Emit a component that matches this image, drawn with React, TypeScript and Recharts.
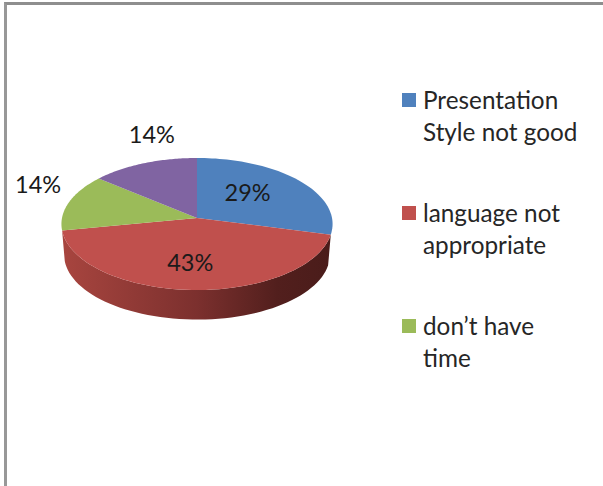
import { Legend, Pie, PieChart } from "recharts";

const categories = ["Presentation\nStyle not good", "language not\nappropriate", "don\u2019t have\ntime", ""];
const shares = [29, 43, 14, 14];
const sliceColors = ["#4f81bd", "#c0504d", "#9bbb59", "#8064a2"];
// label anchor shift from the rim, per slice; the last two sit outside the pie
const labelShift = [[0.6, 0], [0.6, 0], [1, 1], [1, 1]];
const labelNudge = [[-10, -3], [-4, 1], [-31, -18], [8, -29]];

const data = categories.map((name, i) => ({ name, value: shares[i], fill: sliceColors[i] }));

const FONT = "Lato, sans-serif";
const TILT = 0.485; // ry / rx of the disc
const PERSPECTIVE = 0.0909;
const DEPTH = 31;

// disc angle (clockwise from 12 o'clock) to screen, with the slight perspective of the 3D pie
function project(cx: number, cy: number, r: number, theta: number, f = 1) {
  const s = Math.sin((theta * Math.PI) / 180);
  const c = Math.cos((theta * Math.PI) / 180);
  const d = 1 + PERSPECTIVE * c;
  return { x: cx + (r * f * s) / d, y: cy - (r * TILT * f * c) / d };
}

function arcPoints(cx: number, cy: number, r: number, from: number, to: number) {
  const pts = [];
  for (let i = 0; i <= 60; i++) {
    const p = project(cx, cy, r, from + ((to - from) * i) / 60);
    pts.push(`${p.x.toFixed(2)} ${p.y.toFixed(2)}`);
  }
  return pts;
}

function TopFace(props: any) {
  const { cx, cy, outerRadius, startAngle, endAngle, fill } = props;
  const pts = arcPoints(cx, cy, outerRadius, 90 - startAngle, 90 - endAngle);
  return <path d={`M${cx} ${cy} L${pts.join(" L")} Z`} fill={fill} />;
}

function SideWall(props: any) {
  const { cx, cy, outerRadius, startAngle, endAngle } = props;
  const from = 90 - startAngle;
  const to = 90 - endAngle;
  // only the slice facing the viewer shows its side
  if (from > 180 || to < 180) return null;
  const top = arcPoints(cx, cy, outerRadius, from, to);
  const bottom = arcPoints(cx, cy + DEPTH, outerRadius * 0.98, to, from);
  return <path d={`M${top.join(" L")} L${bottom.join(" L")} Z`} fill="url(#wallShade)" />;
}

function renderLabel(props: any) {
  const { cx, cy, outerRadius, midAngle, index, value } = props;
  const p = project(cx, cy, outerRadius, 90 - midAngle, labelShift[index][0]);
  return (
    <text
      x={p.x + labelNudge[index][0]}
      y={p.y + labelNudge[index][1]}
      textAnchor="middle"
      dominantBaseline="central"
      fontFamily={FONT}
      fontSize={23.5}
      fill="#1a1a1a"
    >
      {value}%
    </text>
  );
}

function PieLegend({ payload }: any) {
  const seen = new Set();
  const items = (payload || []).filter((p: any) => {
    if (!p.value || seen.has(p.value)) return false;
    seen.add(p.value);
    return true;
  });
  return (
    <div style={{ fontFamily: FONT, fontSize: 24.3, lineHeight: "31.5px", color: "#262626" }}>
      {items.map((p: any) => (
        <div key={p.value} style={{ display: "flex", height: 113 }}>
          <span
            style={{
              width: 14,
              height: 14,
              marginTop: 9,
              marginRight: 7,
              flex: "none",
              background: p.payload?.fill ?? p.color,
            }}
          />
          <span style={{ whiteSpace: "pre-line" }}>{p.value}</span>
        </div>
      ))}
    </div>
  );
}

export default function App() {
  return (
    <div style={{ position: "fixed", left: 0, top: 0, width: 603, height: 486, background: "#fff", overflow: "hidden" }}>
      <div
        style={{
          position: "absolute",
          left: 4,
          top: 2,
          right: 0,
          bottom: 0,
          borderLeft: "3px solid #989898",
          borderTop: "3px solid #8e8e8e",
        }}
      />
      <PieChart width={603} height={486} margin={{ top: 0, right: 0, bottom: 0, left: 0 }} style={{ position: "absolute", left: 0, top: 0 }}>
        <defs>
          <linearGradient id="wallShade" x1="0" y1="0" x2="1" y2="0">
            <stop offset="0%" stopColor="#a8453f" />
            <stop offset="50%" stopColor="#7c302e" />
            <stop offset="80%" stopColor="#521f1d" />
            <stop offset="100%" stopColor="#4a1c1a" />
          </linearGradient>
        </defs>
        <Pie
          data={data}
          dataKey="value"
          nameKey="name"
          cx={197}
          cy={218}
          outerRadius={135}
          startAngle={90}
          endAngle={-270}
          shape={SideWall}
          legendType="none"
          stroke="none"
          isAnimationActive={false}
        />
        <Pie
          data={data}
          dataKey="value"
          nameKey="name"
          cx={197}
          cy={218}
          outerRadius={135}
          startAngle={90}
          endAngle={-270}
          shape={TopFace}
          label={renderLabel}
          labelLine={false}
          stroke="none"
          isAnimationActive={false}
        />
        <Legend
          layout="vertical"
          align="right"
          verticalAlign="top"
          itemSorter={null}
          content={PieLegend}
          wrapperStyle={{ left: 402, top: 84, width: 195 }}
        />
      </PieChart>
    </div>
  );
}
